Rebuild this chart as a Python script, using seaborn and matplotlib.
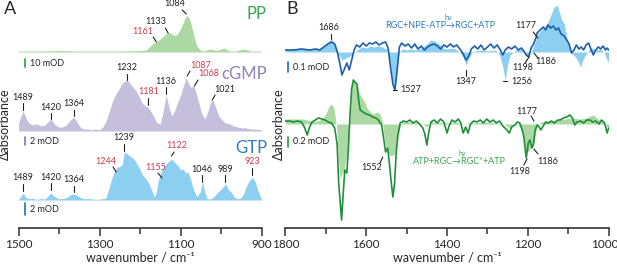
import matplotlib
matplotlib.use("Agg")
import matplotlib.pyplot as plt
import seaborn as sns
from matplotlib.ticker import MultipleLocator

# ---- data ----
# panel A: absorbance spectra, mOD
pp_wn = [1500, 1450, 1400, 1350, 1300, 1250, 1200, 1185, 1178, 1170, 1161, 1155, 1148, 1140, 1133, 1126, 1118,
         1110, 1102, 1095, 1089, 1084, 1078, 1072, 1066, 1060, 1052, 1045, 1035, 1027, 1018, 1010, 1000, 993,
         985, 975, 965, 955, 945, 935, 925, 910, 900]
pp_mod = [1.2, 1.2, 1.9, 1.2, 1.2, 1.2, 1.9, 2.5, 6, 10, 12.5, 14, 17.5, 21, 24, 24, 21,
          21, 27.5, 35, 42.5, 46, 41, 30, 17.5, 7.5, 2.5, 1.2, 2.5, 3.8, 2.5, 1.9, 3.8, 5,
          2.5, 1.2, 1.2, 2.5, 3.8, 2.5, 1.2, 1.2, 1.2]

cgmp_wn = [1500, 1495, 1489, 1482, 1475, 1465, 1455, 1445, 1435, 1427, 1420, 1412, 1402, 1392, 1382, 1372,
           1364, 1356, 1348, 1340, 1330, 1320, 1310, 1300, 1292, 1284, 1276, 1268, 1260, 1252, 1245, 1238,
           1232, 1226, 1218, 1210, 1202, 1195, 1188, 1181, 1174, 1166, 1158, 1150, 1143, 1136, 1129, 1122,
           1115, 1108, 1100, 1094, 1087, 1080, 1074, 1068, 1062, 1055, 1048, 1040, 1034, 1027, 1021, 1014,
           1006, 998, 990, 980, 970, 960, 950, 940, 930, 920, 910, 900]
cgmp_mod = [2.0, 3.5, 5.0, 3.3, 2.0, 1.5, 1.8, 1.3, 1.5, 2.3, 3.0, 1.8, 1.0, 1.0, 1.5, 2.8,
            3.5, 2.3, 1.0, 0.5, 0.5, 0.3, 0.5, 0.3, 1.0, 2.5, 5.0, 7.5, 9.3, 10.5, 11.8, 12.5,
            12.8, 12.0, 11.0, 10.0, 8.5, 7.0, 6.3, 6.0, 5.0, 3.5, 2.0, 1.8, 5.0, 9.0, 6.0, 3.8,
            5.0, 7.0, 9.0, 11.0, 13.3, 11.8, 10.8, 11.5, 9.5, 7.0, 4.3, 3.0, 4.5, 7.0, 8.0, 6.0,
            3.8, 2.8, 2.0, 1.8, 1.3, 1.0, 0.8, 0.8, 0.5, 0.5, 0.4, 0.3]

gtp_wn = [1500, 1495, 1489, 1483, 1475, 1465, 1455, 1445, 1435, 1427, 1420, 1412, 1402, 1392, 1382, 1372,
          1364, 1355, 1345, 1335, 1325, 1315, 1305, 1295, 1285, 1278, 1270, 1262, 1255, 1248, 1244, 1239,
          1232, 1225, 1218, 1210, 1202, 1195, 1188, 1180, 1172, 1165, 1160, 1155, 1148, 1140, 1132, 1122,
          1114, 1106, 1100, 1094, 1088, 1082, 1075, 1068, 1060, 1052, 1046, 1040, 1034, 1025, 1016, 1008,
          1000, 994, 989, 982, 975, 968, 960, 952, 945, 938, 930, 923, 916, 910, 905, 900]
gtp_mod = [0.15, 0.5, 1.15, 0.5, 0.2, 0.3, 0.1, 0.25, 0.15, 0.7, 1.15, 0.6, 0.2, 0.25, 0.4, 0.85,
           1.0, 0.7, 0.35, 0.2, 0.25, 0.15, 0.1, 0.2, 0.3, 1.7, 3.6, 5.0, 5.5, 5.6, 6.0, 8.0,
           7.7, 7.3, 7.0, 6.3, 5.3, 4.3, 3.7, 3.0, 1.7, 0.5, 1.3, 3.3, 4.7, 5.7, 6.3, 6.8,
           6.2, 5.7, 5.0, 5.2, 4.5, 4.7, 3.3, 1.7, 0.5, 1.3, 3.0, 1.2, 0.2, 0.2, 0.7, 1.3,
           1.8, 2.3, 2.7, 1.7, 1.3, 0.5, 0.2, 0.3, 1.0, 2.3, 3.3, 3.8, 3.0, 1.7, 0.8, 0.0]

# panel B: difference spectra, mOD
npe_wn = [1800, 1780, 1760, 1740, 1725, 1715, 1705, 1695, 1686, 1678, 1672, 1666, 1660, 1654, 1648, 1642,
          1636, 1630, 1624, 1616, 1608, 1600, 1592, 1584, 1576, 1568, 1560, 1552, 1546, 1540, 1534, 1529,
          1524, 1518, 1512, 1504, 1496, 1488, 1480, 1472, 1464, 1456, 1448, 1440, 1432, 1424, 1416, 1408,
          1400, 1392, 1384, 1376, 1368, 1360, 1353, 1346, 1340, 1332, 1324, 1316, 1308, 1300, 1292, 1284,
          1276, 1268, 1262, 1256, 1248, 1240, 1232, 1224, 1216, 1210, 1204, 1198, 1192, 1186, 1180, 1177,
          1170, 1162, 1156, 1150, 1144, 1137, 1130, 1124, 1118, 1110, 1104, 1098, 1092, 1086, 1080, 1074,
          1068, 1062, 1056, 1050, 1044, 1038, 1032, 1026, 1020, 1014, 1008, 1004, 1000]
npe_line = [0.02, 0.02, 0.03, 0.02, 0.03, 0.02, 0.05, 0.08, 0.10, 0.08, 0.01, -0.10, -0.23, -0.17, -0.11, -0.18,
            -0.08, 0.02, 0.07, 0.05, 0.09, 0.06, 0.09, 0.08, 0.10, 0.07, 0.09, 0.10, 0.04, -0.15, -0.32, -0.38,
            -0.20, 0.05, 0.09, 0.06, 0.08, 0.04, 0.08, 0.03, 0.06, 0.02, 0.05, 0.07, 0.08, 0.06, 0.03, 0.07,
            0.05, 0.08, 0.05, 0.07, 0.03, -0.02, -0.08, -0.04, 0.03, 0.06, 0.03, 0.07, 0.02, 0.05, 0.08, 0.04,
            0.07, 0.02, -0.03, 0.02, 0.05, 0.03, 0.06, 0.02, 0.04, 0.01, -0.03, -0.05, 0.04, 0.08, 0.14, 0.19,
            0.22, 0.25, 0.22, 0.27, 0.24, 0.26, 0.22, 0.24, 0.18, 0.16, 0.12, 0.08, -0.01, 0.02, 0.07, 0.03,
            0.05, 0.02, 0.07, 0.09, 0.03, -0.03, 0.02, 0.05, 0.03, 0.06, 0.02, 0.04, 0.02]
npe_ref_wn = [1800, 1760, 1720, 1705, 1695, 1686, 1678, 1672, 1666, 1660, 1650, 1640, 1630, 1620, 1610, 1600,
              1590, 1580, 1570, 1560, 1550, 1542, 1535, 1529, 1523, 1518, 1510, 1500, 1490, 1480, 1470, 1460,
              1450, 1440, 1430, 1420, 1410, 1400, 1390, 1380, 1370, 1360, 1353, 1346, 1338, 1320, 1300, 1280,
              1270, 1262, 1256, 1250, 1244, 1230, 1215, 1205, 1198, 1190, 1182, 1175, 1168, 1160, 1150, 1142,
              1135, 1128, 1122, 1116, 1110, 1104, 1098, 1090, 1082, 1075, 1070, 1064, 1056, 1048, 1040, 1030,
              1020, 1012, 1006, 1002, 1000]
npe_ref = [0.03, 0.03, 0.03, 0.05, 0.10, 0.13, 0.08, 0.00, -0.04, -0.08, -0.06, -0.04, -0.01, 0.03, 0.05, 0.04,
           0.06, 0.05, 0.06, 0.05, 0.03, -0.08, -0.28, -0.38, -0.15, 0.00, 0.03, 0.02, 0.03, 0.02, 0.03, 0.05,
           0.08, 0.12, 0.11, 0.08, 0.04, 0.03, 0.04, 0.03, 0.00, -0.05, -0.13, -0.06, 0.00, 0.02, 0.01, 0.02,
           -0.03, -0.15, -0.28, -0.12, -0.03, 0.02, 0.03, -0.04, -0.05, 0.02, 0.10, 0.18, 0.22, 0.25, 0.30, 0.38,
           0.45, 0.47, 0.40, 0.32, 0.28, 0.15, 0.05, -0.02, -0.05, -0.10, -0.15, -0.08, -0.02, 0.03, 0.04, 0.02,
           0.03, 0.00, -0.06, -0.10, -0.08]

atp_wn = [1800, 1790, 1780, 1770, 1760, 1752, 1746, 1740, 1734, 1726, 1718, 1710, 1702, 1694, 1686, 1678,
          1672, 1668, 1664, 1661, 1657, 1653, 1648, 1644, 1640, 1636, 1632, 1628, 1623, 1619, 1615, 1608,
          1600, 1592, 1584, 1576, 1570, 1562, 1557, 1552, 1547, 1543, 1539, 1534, 1530, 1526, 1522, 1516,
          1508, 1500, 1492, 1484, 1476, 1468, 1460, 1455, 1450, 1445, 1440, 1432, 1424, 1416, 1408, 1400,
          1395, 1388, 1380, 1372, 1366, 1360, 1354, 1348, 1342, 1334, 1326, 1318, 1310, 1302, 1294, 1286,
          1278, 1270, 1262, 1254, 1246, 1240, 1232, 1226, 1220, 1214, 1210, 1204, 1199, 1195, 1190, 1186,
          1182, 1177, 1172, 1168, 1162, 1156, 1150, 1142, 1134, 1126, 1120, 1112, 1104, 1096, 1090, 1084,
          1078, 1070, 1062, 1054, 1046, 1040, 1032, 1024, 1018, 1012, 1008, 1004, 1000]
atp_line = [0.06, 0.06, 0.04, 0.06, 0.04, -0.08, -0.22, -0.06, 0.04, 0.08, 0.12, 0.10, 0.08, 0.04, 0.02, -0.08,
            -0.40, -1.20, -1.60, -1.92, -1.40, -0.92, -0.98, -0.46, 0.20, 0.70, 0.88, 0.84, 0.80, 0.50, 0.28, 0.24,
            0.20, 0.18, 0.14, 0.12, 0.08, -0.02, -0.28, -0.56, -0.48, -0.76, -1.10, -1.46, -1.20, -0.60, -0.24, 0.02,
            0.06, 0.04, 0.08, 0.02, 0.06, 0.00, -0.08, -0.20, -0.42, -0.16, 0.04, 0.08, 0.02, 0.10, 0.04, -0.18,
            -0.04, 0.08, 0.04, 0.10, 0.02, -0.18, -0.06, -0.18, 0.00, 0.06, 0.04, 0.08, 0.02, 0.10, 0.04, 0.08,
            0.02, 0.06, -0.04, -0.10, -0.18, -0.06, -0.02, 0.04, 0.02, -0.12, -0.26, -0.68, -0.38, -0.32, -0.48, -0.40,
            -0.12, -0.02, -0.06, -0.12, -0.04, 0.04, 0.02, 0.06, 0.02, 0.08, 0.08, 0.12, 0.14, 0.18, 0.12, -0.02,
            0.04, 0.06, 0.02, 0.08, 0.08, 0.04, 0.06, 0.00, 0.08, 0.04, -0.04, -0.18, -0.08]
atp_ref_wn = [1800, 1780, 1760, 1745, 1735, 1720, 1710, 1700, 1692, 1686, 1680, 1676, 1672, 1668, 1664, 1660,
              1655, 1650, 1645, 1640, 1636, 1632, 1628, 1622, 1616, 1610, 1604, 1598, 1590, 1582, 1574, 1566,
              1560, 1555, 1550, 1544, 1538, 1530, 1524, 1518, 1512, 1500, 1480, 1460, 1450, 1440, 1400, 1380,
              1360, 1340, 1300, 1280, 1260, 1245, 1230, 1220, 1212, 1206, 1200, 1194, 1188, 1182, 1176, 1168,
              1150, 1130, 1110, 1090, 1070, 1055, 1045, 1038, 1030, 1020, 1010, 1004, 1000]
atp_ref = [0.10, 0.10, 0.10, 0.08, 0.06, 0.06, 0.10, 0.20, 0.36, 0.40, 0.32, 0.10, -0.20, -0.80, -1.10, -1.00,
           -0.90, -0.70, -0.30, 0.10, 0.70, 0.88, 0.84, 0.76, 0.60, 0.52, 0.44, 0.32, 0.24, 0.20, 0.24, 0.20,
           0.04, -0.30, -0.50, -0.60, -0.64, -0.60, -0.40, -0.10, 0.04, 0.04, 0.04, 0.00, -0.06, 0.04, 0.02, 0.04,
           0.00, 0.02, 0.04, 0.02, 0.00, -0.08, 0.00, -0.04, -0.20, -0.52, -0.56, -0.48, -0.44, -0.20, -0.04, 0.04,
           0.06, 0.08, 0.10, 0.12, 0.10, 0.12, 0.16, 0.18, 0.12, 0.06, 0.04, -0.06, -0.10]

a_ticks = [1500, 1300, 1100, 900]
b_ticks = [1800, 1600, 1400, 1200, 1000]

# colours
GREEN_FILL, GREEN_TXT, GREEN_LINE = '#acd8a4', '#3ba552', '#1f8f3a'
PURPLE_FILL, PURPLE_TXT = '#c6bfdc', '#8f80b9'
BLUE_FILL, BLUE_TXT, BLUE_LINE = '#8dcff0', '#2f7bbf', '#1f5fa8'
RED = '#cc3d4f'
INK = '#222222'

sns.set_theme(style="ticks")
plt.rcParams['font.family'] = ['Lato', 'DejaVu Sans']
plt.rcParams['axes.linewidth'] = 1.2

fig = plt.figure(figsize=(6.17, 2.65), dpi=100)
axA = fig.add_axes([18.6 / 617, 37 / 265, 243.1 / 617, 228 / 265])
axB = fig.add_axes([285.4 / 617, 37 / 265, 323.3 / 617, 228 / 265])


def style_axis(ax, lo, hi, ticks, shift_last=False):
    ax.set_xlim(lo, hi)
    ax.set_ylim(0, 228)
    sns.despine(ax=ax, left=True)
    ax.set_yticks([])
    ax.set_ylabel('')
    ax.patch.set_alpha(0)
    ax.spines['bottom'].set_color('#333333')
    labels = [str(t) for t in ticks]
    if shift_last:
        labels[-1] = ''
    ax.set_xticks(ticks, labels)
    ax.xaxis.set_minor_locator(MultipleLocator(100))
    ax.tick_params(axis='x', which='major', length=6, width=1.1, color='#333333', labelsize=8.5, pad=2)
    ax.tick_params(axis='x', which='minor', length=4, width=1.1, color='#333333')
    ax.set_xlabel('wavenumber / cm\u207b\u00b9', fontsize=9, labelpad=1)
    if shift_last:
        # last label kept inside the canvas, as in the original
        ax.annotate(str(ticks[-1]), xy=(ticks[-1], 0), xycoords=('data', 'axes fraction'),
                    xytext=(-3, -8), textcoords='offset points', ha='center', va='top', fontsize=8.5)


def label(ax, txt, xt, yt, seg, color=INK, ha='center', size=6.5):
    ax.text(xt, yt, txt, ha=ha, va='center', fontsize=size, color=color, clip_on=False)
    if seg is not None:
        ax.plot([seg[0], seg[2]], [seg[1], seg[3]], color=INK, lw=0.8, clip_on=False)


def scale_bar(ax, x, y0, length, txt, color):
    ax.plot([x, x], [y0, y0 + length], color=color, lw=1.3, clip_on=False)
    ax.text(x - 12, y0 + length / 2, txt, ha='left', va='center', fontsize=6.5, color=INK)


# ---- panel A ----
spectra = [(pp_wn, pp_mod, 176, 0.8, GREEN_FILL),
           (cgmp_wn, cgmp_mod, 97, 4.0, PURPLE_FILL),
           (gtp_wn, gtp_mod, 28, 6.0, BLUE_FILL)]
for wn, vals, base, k, col in spectra:
    axA.fill_between(wn, base, [base + k * v for v in vals], color=col, lw=0)
style_axis(axA, 1500, 900, a_ticks)

axA.text(887, 214, 'PP', ha='right', va='center', fontsize=12, color=GREEN_TXT, clip_on=False)
axA.text(887, 154, 'cGMP', ha='right', va='center', fontsize=12, color=PURPLE_TXT, clip_on=False)
axA.text(887, 80, 'GTP', ha='right', va='center', fontsize=12, color=BLUE_TXT, clip_on=False)

scale_bar(axA, 1484, 161, 10 * 0.8, '10 mOD', GREEN_TXT)
scale_bar(axA, 1484, 83, 2 * 4.0, '2 mOD', PURPLE_TXT)
scale_bar(axA, 1484, 13, 2 * 6.0, '2 mOD', BLUE_TXT)

a_labels = [
    ('1084', 1114, 224, (1096, 218, 1086, 214), INK),
    ('1133', 1161, 207, (1138, 200, 1131, 195), INK),
    ('1161', 1193, 196, (1168, 191, 1160, 186), RED),
    ('1232', 1232, 161, (1232, 154, 1232, 148), INK),
    ('1181', 1180, 136, (1181, 130, 1181, 123), RED),
    ('1136', 1136, 147, (1136, 141, 1136, 134), INK),
    ('1087', 1050, 163, (1077, 157, 1084, 152), RED),
    ('1068', 1030, 154, (1057, 148, 1066, 142), RED),
    ('1021', 990, 139, (1015, 133, 1022, 128), INK),
    ('1489', 1489, 131, (1489, 125, 1489, 118), INK),
    ('1420', 1420, 120, (1420, 115, 1420, 109), INK),
    ('1364', 1364, 124, (1364, 118, 1364, 112), INK),
    ('1239', 1240, 90, (1240, 84, 1240, 77), INK),
    ('1244', 1284, 67, (1267, 61, 1259, 56), RED),
    ('1155', 1163, 60, (1156, 55, 1146, 50), RED),
    ('1122', 1109, 83, (1116, 76, 1123, 72), RED),
    ('1046', 1047, 59, (1047, 53, 1047, 46), INK),
    ('989', 990, 59, (990, 53, 990, 46), INK),
    ('923', 923, 66, (923, 60, 923, 53), RED),
    ('1489', 1489, 50, (1489, 44, 1489, 37), INK),
    ('1420', 1420, 51, (1420, 45, 1420, 38), INK),
    ('1364', 1364, 48, (1364, 42, 1364, 36), INK),
]
for txt, xt, yt, seg, col in a_labels:
    label(axA, txt, xt, yt, seg, col)

# ---- panel B ----
TOP0, BOT0 = 176, 104
axB.fill_between(npe_ref_wn, TOP0, [TOP0 + 100 * v for v in npe_ref], color=BLUE_FILL, lw=0)
axB.fill_between(atp_ref_wn, BOT0, [BOT0 + 50 * v for v in atp_ref], color=GREEN_FILL, lw=0)
sns.lineplot(x=npe_wn, y=[TOP0 + 100 * v for v in npe_line], ax=axB, color=BLUE_LINE, lw=1.2)
sns.lineplot(x=atp_wn, y=[BOT0 + 50 * v for v in atp_line], ax=axB, color=GREEN_LINE, lw=1.2)
style_axis(axB, 1800, 1000, b_ticks, shift_last=True)

scale_bar(axB, 1794, 156, 0.1 * 100, '0.1 mOD', BLUE_TXT)
scale_bar(axB, 1794, 81, 0.2 * 50, '0.2 mOD', GREEN_TXT)

b_labels = [
    ('1686', 1692, 200, (1687, 194, 1687, 189)),
    ('1347', 1353, 146, (1353, 158, 1353, 152)),
    ('1198', 1214, 160, (1207, 165, 1197, 171)),
    ('1186', 1155, 166, (1175, 170, 1185, 175)),
    ('1177', 1205, 202, (1187, 196, 1175, 190)),
    ('1552', 1586, 60, (1566, 65, 1559, 71)),
    ('1177', 1202, 117, (1192, 112, 1185, 107)),
    ('1198', 1219, 56, (1210, 63, 1202, 69)),
    ('1186', 1152, 67, (1175, 74, 1185, 79)),
]
for txt, xt, yt, seg in b_labels:
    label(axB, txt, xt, yt, seg)
label(axB, '1527', 1517, 138, (1534, 138, 1524, 138), ha='left')
label(axB, '1256', 1242, 147, (1261, 147, 1251, 147), ha='left')

axB.text(1417, 203, 'RGC+NPE-ATP\u2192RGC+ATP', ha='center', va='center', fontsize=6.5, color=BLUE_TXT)
axB.text(1397, 211, 'h\u03bd', ha='center', va='center', fontsize=5, color=BLUE_TXT)
axB.text(1370, 67, 'ATP+RGC\u2192RGC*+ATP', ha='center', va='center', fontsize=6.5, color=GREEN_TXT)
axB.text(1361, 75, 'h\u03bd', ha='center', va='center', fontsize=5, color=GREEN_TXT)

# panel letters and y labels
fig.text(4 / 617, 1 - 9 / 265, 'A', ha='left', va='center', fontsize=13)
fig.text(286 / 617, 1 - 9 / 265, 'B', ha='left', va='center', fontsize=13)
fig.text(5 / 617, 1 - 124 / 265, '\u0394absorbance', rotation=90, ha='center', va='center', fontsize=9)
fig.text(279 / 617, 1 - 124 / 265, '\u0394absorbance', rotation=90, ha='center', va='center', fontsize=9)

fig.savefig('out.png', dpi=100)
